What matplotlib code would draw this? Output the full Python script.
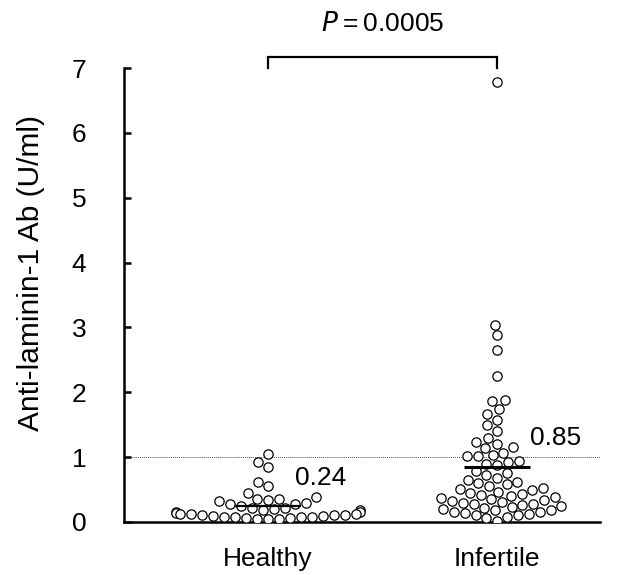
import matplotlib
matplotlib.use("Agg")
import matplotlib.pyplot as plt
import numpy as np
import pandas as pd
import seaborn as sns

plt.rcParams["font.family"] = ["Liberation Sans", "DejaVu Sans"]

groups = ["Healthy", "Infertile"]

healthy = [1.05, 0.92, 0.85, 0.61, 0.55, 0.44, 0.38, 0.36, 0.35, 0.34,
           0.33, 0.30, 0.28, 0.27, 0.25, 0.22, 0.21, 0.20, 0.19, 0.18,
           0.16, 0.15, 0.14, 0.13, 0.12, 0.12, 0.11, 0.10, 0.10, 0.09,
           0.09, 0.08, 0.08, 0.07, 0.07, 0.06, 0.06, 0.05, 0.05, 0.05]

infertile = [6.78, 3.04, 2.88, 2.65, 2.25, 1.88, 1.87, 1.74, 1.66, 1.58,
             1.49, 1.41, 1.30, 1.24, 1.20, 1.16, 1.14, 1.07, 1.03, 1.01,
             1.01, 0.94, 0.92, 0.90, 0.88, 0.78, 0.75, 0.72, 0.68, 0.65,
             0.62, 0.60, 0.58, 0.55, 0.53, 0.51, 0.49, 0.47, 0.45, 0.43,
             0.42, 0.40, 0.38, 0.37, 0.35, 0.34, 0.32, 0.31, 0.30, 0.28,
             0.27, 0.26, 0.24, 0.23, 0.22, 0.20, 0.19, 0.18, 0.16, 0.15,
             0.14, 0.12, 0.11, 0.10, 0.08, 0.06, 0.02]

group_means = [0.24, 0.85]
p_text = "0.0005"
cutoff = 1.0

df = pd.DataFrame({
    "group": ["Healthy"] * len(healthy) + ["Infertile"] * len(infertile),
    "value": healthy + infertile,
})

fig = plt.figure(figsize=(6.18, 5.75), dpi=100)
ax = fig.add_axes([0.2006, 0.0922, 0.7703, 0.7895])

sns.swarmplot(data=df, x="group", y="value", order=groups, ax=ax, size=6.7,
              color="white", edgecolor="black", linewidth=0.9, zorder=3)

ax.set_xlim(-0.629, 1.45)
ax.set_ylim(0, 7)

# cutoff line
ax.axhline(cutoff, color="#555555", linestyle=(0, (1, 1)), linewidth=0.7, zorder=1)

# mean bars + labels
for i, m in enumerate(group_means):
    ax.plot([i - 0.145, i + 0.145], [m, m], color="black",
            linewidth=2.2 if i else 1.6, zorder=4, solid_capstyle="butt")
ax.text(0.12, 0.68, f"{group_means[0]:.2f}", fontsize=19, ha="left", va="center")
ax.text(1.145, 1.3, f"{group_means[1]:.2f}", fontsize=19, ha="left", va="center")

# significance bracket
ax.plot([0, 0, 1, 1], [7.0, 7.17, 7.17, 7.0], color="black", linewidth=1.6,
        clip_on=False, solid_joinstyle="miter")
ax.text(0.5, 7.68, r"$\it{P}$" + "\u2009=\u2009" + p_text, fontsize=19,
        ha="center", va="center")

for s in ["top", "right"]:
    ax.spines[s].set_visible(False)
for s in ["left", "bottom"]:
    ax.spines[s].set_linewidth(1.8)

ax.set_yticks(range(0, 8))
ax.tick_params(axis="y", direction="in", length=5, width=1.8, labelsize=19, pad=27)
ax.tick_params(axis="x", length=0, labelsize=19, pad=18)
ax.set_xticks([0, 1])
ax.set_xticklabels(groups)
ax.set_xlabel("")
ax.set_ylabel("Anti-laminin-1 Ab (U/ml)", fontsize=21.5)
ax.yaxis.set_label_coords(-0.166, 0.548)

fig.savefig("out.png", dpi=100)
